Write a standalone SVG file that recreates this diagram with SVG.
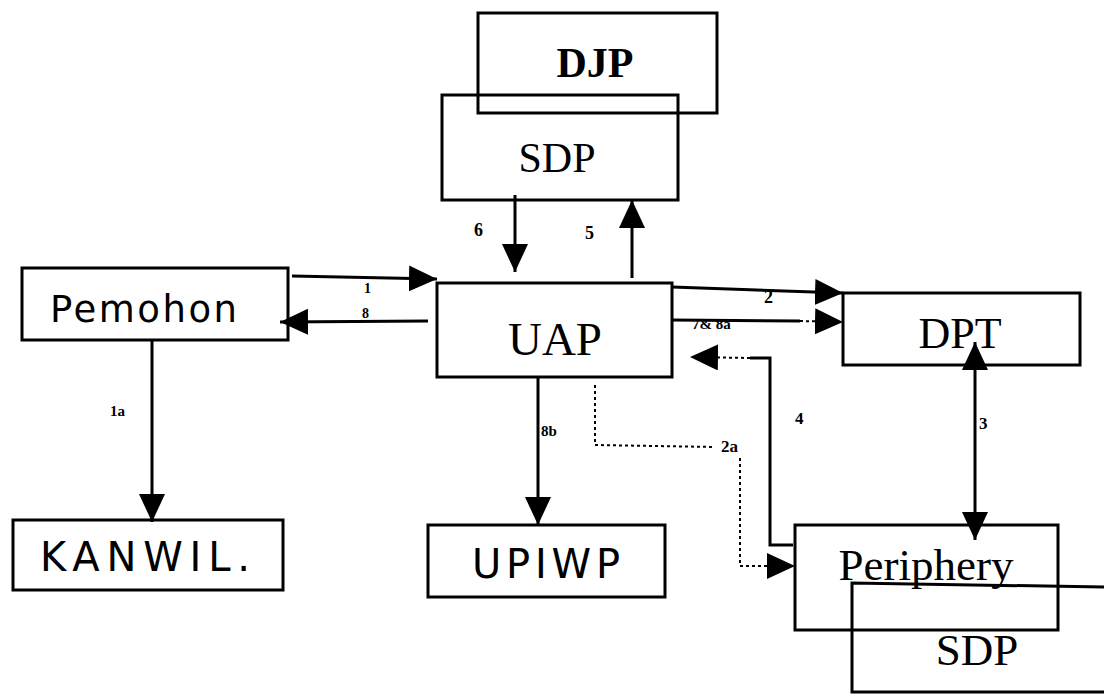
<svg xmlns="http://www.w3.org/2000/svg" width="1104" height="696" viewBox="0 0 1104 696">
<defs>
<marker id="ah" markerUnits="userSpaceOnUse" markerWidth="30" markerHeight="28" refX="28" refY="13" orient="auto">
<path d="M0,0 L28,13 L0,26 Z" fill="#000"/>
</marker>
<marker id="ahs" markerUnits="userSpaceOnUse" markerWidth="30" markerHeight="28" refX="28" refY="13" orient="auto-start-reverse">
<path d="M0,0 L28,13 L0,26 Z" fill="#000"/>
</marker>
<style>
.box{fill:none;stroke:#000;stroke-width:3}
.ser{font-family:"Liberation Serif","Times New Roman",serif;fill:#000;text-anchor:middle}
.san{font-family:"DejaVu Sans","Liberation Sans",sans-serif;fill:#000}
.lbl{font-family:"Liberation Serif",serif;font-weight:bold;fill:#000}
.ln{fill:none;stroke:#000;stroke-width:3}
.dot{fill:none;stroke:#000;stroke-width:2;stroke-dasharray:3 3}
</style>
</defs>
<rect width="1104" height="696" fill="#fff"/>
<g id="DJP"><rect class="box" x="478" y="13" width="239" height="100"/><text class="ser" x="595" y="77" font-size="42" font-weight="bold">DJP</text></g>
<g id="SDP-top"><rect class="box" x="442" y="95" width="236" height="105"/><text class="ser" x="557" y="172" font-size="42">SDP</text></g>
<g id="Pemohon"><rect class="box" x="22" y="268" width="266" height="72"/><text class="san" x="50" y="322" font-size="37" textLength="187">Pemohon</text></g>
<g id="UAP"><rect class="box" x="437" y="283" width="235" height="94"/><text class="ser" x="555" y="355" font-size="47">UAP</text></g>
<g id="DPT"><rect class="box" x="843" y="293" width="237" height="72"/><text class="ser" x="960" y="348" font-size="44">DPT</text></g>
<g id="KANWIL"><rect class="box" x="13" y="520" width="270" height="70"/><text class="san" x="40" y="571" font-size="40" textLength="210">KANWIL.</text></g>
<g id="UPIWP"><rect class="box" x="428" y="525" width="237" height="72"/><text class="san" x="472" y="578" font-size="40" textLength="148">UPIWP</text></g>
<g id="SDP-bottom"><path class="box" d="M1104,587 L852,583 L852,692 L1104,692"/><text class="ser" x="977" y="665" font-size="45">SDP</text></g>
<g id="Periphery"><rect class="box" x="795" y="525" width="263" height="105"/><text class="ser" x="926" y="580" font-size="45">Periphery</text></g>
<g id="connectors">
<line class="ln" x1="292" y1="276" x2="437" y2="279" marker-end="url(#ah)"/>
<line class="ln" x1="428" y1="321" x2="280" y2="322" marker-end="url(#ah)"/>
<line class="ln" x1="515" y1="195" x2="515" y2="272" marker-end="url(#ah)"/>
<line class="ln" x1="632" y1="278" x2="632" y2="200" marker-end="url(#ah)"/>
<line class="ln" x1="672" y1="287" x2="843" y2="293" marker-end="url(#ah)"/>
<line class="ln" x1="672" y1="320" x2="800" y2="321"/>
<line class="dot" x1="800" y1="321" x2="843" y2="322" marker-end="url(#ah)"/>
<line class="ln" x1="152" y1="340" x2="152" y2="522" marker-end="url(#ah)"/>
<line class="ln" x1="538" y1="378" x2="538" y2="525" marker-end="url(#ah)"/>
<polyline class="ln" points="793,545 770,545 770,358 750,358"/>
<line class="dot" x1="750" y1="358" x2="690" y2="357" marker-end="url(#ah)"/>
<polyline class="dot" points="595,385 595,445 715,447"/>
<polyline class="dot" points="740,458 740,566 795,566" marker-end="url(#ah)"/>
<line class="ln" x1="975" y1="342" x2="975" y2="540" marker-start="url(#ahs)" marker-end="url(#ah)"/>
</g>
<g id="labels">
<text class="lbl" x="364" y="293" font-size="14">1</text>
<text class="lbl" x="362" y="318" font-size="14">8</text>
<text class="lbl" x="474" y="236" font-size="18">6</text>
<text class="lbl" x="585" y="239" font-size="18">5</text>
<text class="lbl" x="764" y="303" font-size="18">2</text>
<text class="lbl" x="692" y="329" font-size="15">7&amp; 8a</text>
<text class="lbl" x="795" y="424" font-size="17">4</text>
<text class="lbl" x="721" y="452" font-size="17">2a</text>
<text class="lbl" x="541" y="436" font-size="15">8b</text>
<text class="lbl" x="110" y="416" font-size="15">1a</text>
<text class="lbl" x="979" y="429" font-size="17">3</text>
</g>
</svg>
